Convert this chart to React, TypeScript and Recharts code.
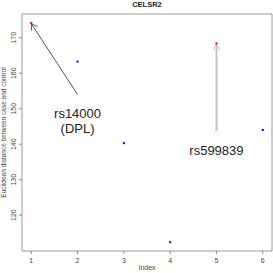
import React from 'react'
import {
  ScatterChart,
  Scatter,
  XAxis,
  YAxis,
  ReferenceLine,
  ReferenceDot,
  ReferenceArea,
} from 'recharts'

const indices = [1, 2, 3, 4, 5, 6]
const distances = [174.2, 163.3, 140.3, 112.4, 168.4, 144.0]
const pointColors = ['#ff0000', '#0000ff', '#0000ff', '#0000ff', '#ff0000', '#0000ff']
const xTicks = [1, 2, 3, 4, 5, 6]
const yTicks = [120, 130, 140, 150, 160, 170]

// annotation arrows: [x0, y0, x1, y1]
const arrowDPL = [2, 154, 1, 174]
const arrowRs599839 = [5, 143.6, 5, 168.2]

const data = indices.map((x, i) => ({ x, y: distances[i], color: pointColors[i] }))

const FONT = '"Liberation Sans", Arial, sans-serif'

const xMin = 0.8
const xMax = 6.2
const yMin = 109.9
const yMax = 176.7

function arrowShape(color: string, width: number) {
  return (props: any) => {
    const { x1, y1, x2, y2 } = props
    const ang = Math.atan2(y2 - y1, x2 - x1)
    const len = 7
    const spread = Math.PI / 6
    const ax = x2 - len * Math.cos(ang - spread)
    const ay = y2 - len * Math.sin(ang - spread)
    const bx = x2 - len * Math.cos(ang + spread)
    const by = y2 - len * Math.sin(ang + spread)
    return (
      <g>
        <line x1={x1} y1={y1} x2={x2} y2={y2} stroke={color} strokeWidth={width} />
        <polyline points={`${ax},${ay} ${x2},${y2} ${bx},${by}`} fill="none" stroke={color} strokeWidth={1} />
      </g>
    )
  }
}

const YTick = (props: any) => {
  const { x, y, payload } = props
  return (
    <text x={x - 1} y={y} transform={`rotate(-90 ${x - 1} ${y})`} textAnchor="middle" fontSize={7} fill="#444" fontFamily={FONT}>
      {payload.value}
    </text>
  )
}

const XTick = (props: any) => {
  const { x, y, payload } = props
  return (
    <text x={x} y={y + 7} textAnchor="middle" fontSize={7} fill="#444" fontFamily={FONT}>
      {payload.value}
    </text>
  )
}

const Dot = (props: any) => {
  const { cx, cy, payload } = props
  return <rect x={cx - 1} y={cy - 1} width={2} height={2} fill={payload.color} />
}

const labelDPL = (props: any) => {
  const { cx, cy } = props
  return (
    <g fontFamily={FONT} fontSize={13} fill="#222" textAnchor="middle">
      <text x={cx} y={cy - 7} dominantBaseline="central">rs14000</text>
      <text x={cx} y={cy + 8} dominantBaseline="central">(DPL)</text>
    </g>
  )
}

const labelRs = (props: any) => {
  const { cx, cy } = props
  return (
    <text x={cx} y={cy} dominantBaseline="central" fontFamily={FONT} fontSize={13} fill="#222" textAnchor="middle">
      rs599839
    </text>
  )
}

export default function App() {
  return (
    <div style={{ position: 'fixed', left: 0, top: 0, width: 273, height: 273, background: '#fff' }}>
      <div
        style={{
          position: 'absolute',
          left: 22,
          width: 250,
          top: 0,
          textAlign: 'center',
          fontFamily: FONT,
          fontWeight: 'bold',
          fontSize: 7.5,
          lineHeight: '10px',
          color: '#222',
        }}
      >
        CELSR2
      </div>
      <ScatterChart width={273} height={273} margin={{ top: 14, right: 1, bottom: 0, left: 0 }}>
        <XAxis
          type="number"
          dataKey="x"
          domain={[xMin, xMax]}
          ticks={xTicks}
          allowDataOverflow
          axisLine={false}
          tickLine={{ stroke: '#888' }}
          tickSize={3}
          height={22}
          tick={<XTick />}
          label={(p: any) => {
            const vb = p.viewBox
            return (
              <text x={vb.x + vb.width / 2} y={270} textAnchor="middle" fontSize={7} fill="#444" fontFamily={FONT}>
                Index
              </text>
            )
          }}
        />
        <YAxis
          type="number"
          dataKey="y"
          domain={[yMin, yMax]}
          ticks={yTicks}
          allowDataOverflow
          axisLine={false}
          tickLine={{ stroke: '#888' }}
          tickSize={3}
          width={22}
          tick={<YTick />}
          label={(p: any) => {
            const vb = p.viewBox
            const cy = vb.y + vb.height / 2
            return (
              <text x={6} y={cy} transform={`rotate(-90 6 ${cy})`} textAnchor="middle" fontSize={6.5} fill="#444" fontFamily={FONT}>
                Euclidean distance between case and control
              </text>
            )
          }}
        />
        <ReferenceArea x1={xMin} x2={xMax} y1={yMin} y2={yMax} fill="none" stroke="#999" strokeWidth={1} ifOverflow="visible" />
        <ReferenceLine
          segment={[{ x: arrowDPL[0], y: arrowDPL[1] }, { x: arrowDPL[2], y: arrowDPL[3] }]}
          shape={arrowShape('#555', 1)}
        />
        <ReferenceLine
          segment={[{ x: arrowRs599839[0], y: arrowRs599839[1] }, { x: arrowRs599839[2], y: arrowRs599839[3] }]}
          shape={arrowShape('#c4c4c4', 2)}
        />
        <ReferenceDot x={2} y={146.7} shape={labelDPL} />
        <ReferenceDot x={5} y={138.2} shape={labelRs} />
        <Scatter data={data} shape={<Dot />} isAnimationActive={false} />
      </ScatterChart>
    </div>
  )
}
